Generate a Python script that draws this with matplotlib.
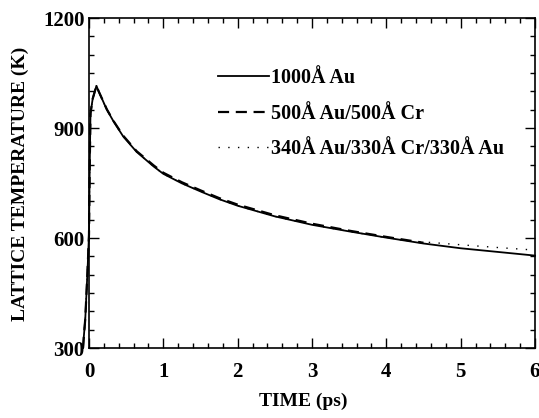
import matplotlib
matplotlib.use("Agg")
import matplotlib.pyplot as plt
from matplotlib.ticker import MultipleLocator

plt.rcParams['font.family'] = ['Liberation Serif', 'DejaVu Serif']
plt.rcParams['font.weight'] = 'bold'

# ---- data ----
t_solid = [-0.08, -0.07, -0.05, -0.02, 0.0, 0.01, 0.02, 0.05, 0.10, 0.13, 0.24, 0.33,
           0.46, 0.64, 0.87, 1.0, 1.25, 1.5, 1.75, 2.0, 2.5, 3.0, 3.5, 4.0, 4.5,
           5.0, 5.5, 6.0]
T_solid = [300, 330, 380, 510, 610, 800, 940, 980, 1015, 1000, 950, 918,
           877, 835, 795, 775, 749, 727, 706, 688, 659, 636, 618, 601, 585,
           572, 562, 552]

t_dash = [-0.08, -0.07, -0.05, -0.02, 0.0, 0.01, 0.02, 0.05, 0.10, 0.13, 0.24, 0.33,
          0.46, 0.64, 0.87, 1.0, 1.25, 1.5, 1.75, 2.0, 2.5, 3.0, 3.5, 4.0, 4.5]
T_dash = [300, 330, 380, 510, 610, 800, 940, 980, 1015, 1000, 951, 919,
          879, 837, 798, 778, 752, 730, 709, 691, 662, 639, 620, 603, 587]

t_dot = [-0.08, -0.07, -0.05, -0.02, 0.0, 0.01, 0.02, 0.05, 0.10, 0.13, 0.24, 0.33,
         0.46, 0.64, 0.87, 1.0, 1.25, 1.5, 1.75, 2.0, 2.5, 3.0, 3.5, 4.0, 4.3,
         4.65, 5.1, 5.5, 6.0]
T_dot = [300, 330, 380, 510, 610, 800, 940, 980, 1015, 1000, 950, 918,
         877, 835, 795, 775, 749, 727, 706, 688, 659, 636, 618, 601, 592,
         587, 580, 574, 567]

labels = ['1000Å Au', '500Å Au/500Å Cr', '340Å Au/330Å Cr/330Å Au']
x_ticks = [0, 1, 2, 3, 4, 5, 6]
y_ticks = [300, 600, 900, 1200]

# ---- figure ----
fig = plt.figure(figsize=(5.39, 4.18), dpi=100)
ax = fig.add_axes([89/539, 1 - 348/418, 446/539, 330/418])

ax.plot(t_solid, T_solid, color='black', lw=1.3, ls='-', label=labels[0], clip_on=False)
ax.plot(t_dash, T_dash, color='black', lw=1.6, ls=(0, (5, 3)), label=labels[1], clip_on=False)
ax.plot(t_dot, T_dot, color='black', lw=1.0, ls=(0, (1, 6)), label=labels[2], clip_on=False)

ax.set_xlim(0, 6)
ax.set_ylim(300, 1200)
ax.set_xticks(x_ticks)
ax.set_yticks(y_ticks)
ax.xaxis.set_minor_locator(MultipleLocator(0.2))
ax.yaxis.set_minor_locator(MultipleLocator(50))

ax.tick_params(which='both', direction='in', top=True, right=True, width=1.0,
               labelsize=15, colors='black')
ax.tick_params(which='major', length=7)
ax.tick_params(which='minor', length=3.5)
ax.tick_params(axis='x', which='major', pad=10)
ax.tick_params(axis='y', which='major', pad=3)
for s in ax.spines.values():
    s.set_linewidth(1.2)

ax.set_xlabel('TIME (ps)', fontsize=14, fontweight='bold')
ax.set_ylabel('LATTICE TEMPERATURE (K)', fontsize=14, fontweight='bold')
ax.xaxis.set_label_coords(0.48, -0.135)
ax.yaxis.set_label_coords(-0.135, 0.497)

leg = ax.legend(loc='upper left', bbox_to_anchor=(0.29, 0.847), frameon=False,
                prop={'size': 14.5, 'weight': 'bold'}, handlelength=2.5, handletextpad=0.1,
                labelspacing=0.75, borderaxespad=0, borderpad=0)

fig.savefig('out.png', dpi=100)
